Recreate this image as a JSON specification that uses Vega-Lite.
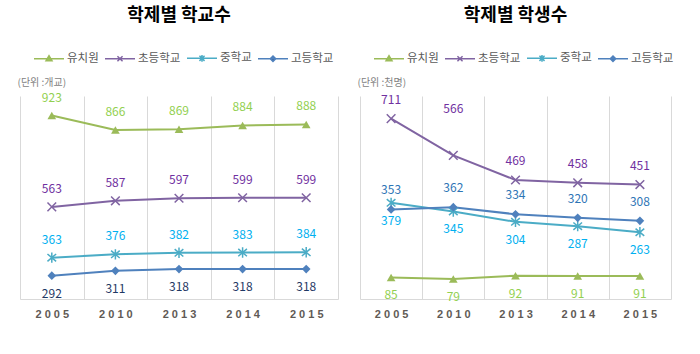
{
  "$schema": "https://vega.github.io/schema/vega-lite/v6.json",
  "background": "white",
  "padding": {"left": 17, "top": 7, "right": 5, "bottom": 5},
  "datasets": {
    "schools": [
      {"year": "2005", "series": "유치원", "value": 923},
      {"year": "2010", "series": "유치원", "value": 866},
      {"year": "2013", "series": "유치원", "value": 869},
      {"year": "2014", "series": "유치원", "value": 884},
      {"year": "2015", "series": "유치원", "value": 888},
      {"year": "2005", "series": "초등학교", "value": 563},
      {"year": "2010", "series": "초등학교", "value": 587},
      {"year": "2013", "series": "초등학교", "value": 597},
      {"year": "2014", "series": "초등학교", "value": 599},
      {"year": "2015", "series": "초등학교", "value": 599},
      {"year": "2005", "series": "중학교", "value": 363},
      {"year": "2010", "series": "중학교", "value": 376},
      {"year": "2013", "series": "중학교", "value": 382},
      {"year": "2014", "series": "중학교", "value": 383},
      {"year": "2015", "series": "중학교", "value": 384},
      {"year": "2005", "series": "고등학교", "value": 292},
      {"year": "2010", "series": "고등학교", "value": 311},
      {"year": "2013", "series": "고등학교", "value": 318},
      {"year": "2014", "series": "고등학교", "value": 318},
      {"year": "2015", "series": "고등학교", "value": 318}
    ],
    "students": [
      {"year": "2005", "series": "유치원", "value": 85},
      {"year": "2010", "series": "유치원", "value": 79},
      {"year": "2013", "series": "유치원", "value": 92},
      {"year": "2014", "series": "유치원", "value": 91},
      {"year": "2015", "series": "유치원", "value": 91},
      {"year": "2005", "series": "초등학교", "value": 711},
      {"year": "2010", "series": "초등학교", "value": 566},
      {"year": "2013", "series": "초등학교", "value": 469},
      {"year": "2014", "series": "초등학교", "value": 458},
      {"year": "2015", "series": "초등학교", "value": 451},
      {"year": "2005", "series": "중학교", "value": 379},
      {"year": "2010", "series": "중학교", "value": 345},
      {"year": "2013", "series": "중학교", "value": 304},
      {"year": "2014", "series": "중학교", "value": 287},
      {"year": "2015", "series": "중학교", "value": 263},
      {"year": "2005", "series": "고등학교", "value": 353},
      {"year": "2010", "series": "고등학교", "value": 362},
      {"year": "2013", "series": "고등학교", "value": 334},
      {"year": "2014", "series": "고등학교", "value": 320},
      {"year": "2015", "series": "고등학교", "value": 308}
    ]
  },
  "spacing": 19,
  "resolve": {
    "scale": {"color": "independent", "fill": "independent", "x": "independent", "y": "independent"},
    "legend": {"color": "independent"}
  },
  "hconcat": [
    {
      "width": 318,
      "height": 203,
      "title": {"text": "학제별 학교수", "fontSize": 18, "fontWeight": "bold", "font": "Noto Sans CJK KR", "color": "#000000", "frame": "group", "anchor": "middle", "offset": 17},
      "data": {"name": "schools"},
      "encoding": {
        "x": {
          "field": "year", "type": "ordinal",
          "scale": {"type": "band", "paddingInner": 0, "paddingOuter": 0},
          "axis": {"title": null, "labelAngle": 0, "labelExpr": "join(split(datum.label, ''), ' ')", "tickBand": "extent", "grid": true, "gridColor": "#d9d9d9", "domainColor": "#d9d9d9", "ticks": false, "labelPadding": 9, "labelFont": "Liberation Sans", "labelFontSize": 11, "labelFontWeight": "bold", "labelColor": "#5f5a55"}
        },
        "y": {
          "field": "value", "type": "quantitative",
          "scale": {"domain": [200, 1000], "nice": false, "zero": false},
          "axis": {"title": "(단위 :개교)", "labels": false, "ticks": false, "domain": false, "grid": false, "titleAngle": 0, "titleAlign": "left", "titleBaseline": "middle", "titleX": -3, "titleY": -14, "titleFont": "Noto Sans CJK KR", "titleFontSize": 10, "titleFontWeight": "normal", "titleColor": "#7f7f7f"}
        }
      },
      "layer": [
        {
          "mark": {"type": "line", "strokeWidth": 2},
          "encoding": {
            "color": {
              "field": "series", "type": "nominal",
              "scale": {"domain": ["유치원", "초등학교", "중학교", "고등학교"], "range": ["#9bbb59", "#8064a2", "#4bacc6", "#4f81bd"]},
              "legend": {
                "title": null, "orient": "none", "direction": "horizontal", "legendX": 13, "legendY": -54,
                "symbolSize": 900, "labelFont": "Noto Sans CJK KR", "labelFontSize": 11.5, "labelColor": "#595959", "labelOffset": 2, "columnPadding": 3,
                "encode": {"symbols": {"update": {
                  "shape": {"signal": "datum.value == '유치원' ? 'M-1,0H1M-0.2,0.14L0,-0.2L0.2,0.14Z' : datum.value == '초등학교' ? 'M-1,0H1M-0.17,-0.17L0.17,0.17M-0.17,0.17L0.17,-0.17' : datum.value == '중학교' ? 'M-1,0H1M-0.17,-0.17L0.17,0.17M-0.17,0.17L0.17,-0.17M0,-0.22V0.22' : 'M-1,0H1M0,-0.18L0.18,0L0,0.18L-0.18,0Z'"},
                  "fill": {"signal": "datum.value == '유치원' ? '#9bbb59' : datum.value == '초등학교' ? '#8064a2' : datum.value == '중학교' ? '#4bacc6' : '#4f81bd'"},
                  "stroke": {"signal": "datum.value == '유치원' ? '#9bbb59' : datum.value == '초등학교' ? '#8064a2' : datum.value == '중학교' ? '#4bacc6' : '#4f81bd'"},
                  "strokeWidth": {"value": 1.5},
                  "size": {"value": 900},
                  "opacity": {"value": 1}
                }}}
              }
            }
          }
        },
        {
          "transform": [{"filter": "datum.series == '유치원'"}],
          "mark": {"type": "point", "shape": "triangle-up", "filled": true, "size": 75, "color": "#9bbb59", "opacity": 1}
        },
        {
          "transform": [{"filter": "datum.series == '초등학교'"}],
          "mark": {"type": "point", "shape": "M-1,-1L1,1M-1,1L1,-1", "filled": false, "size": 75, "strokeWidth": 1.5, "color": "#8064a2", "opacity": 1}
        },
        {
          "transform": [{"filter": "datum.series == '중학교'"}],
          "mark": {"type": "point", "shape": "M-1,-0.85L1,0.85M-1,0.85L1,-0.85M0,-1.2V1.2", "filled": false, "size": 75, "strokeWidth": 1.5, "color": "#4bacc6", "opacity": 1}
        },
        {
          "transform": [{"filter": "datum.series == '고등학교'"}],
          "mark": {"type": "point", "shape": "diamond", "filled": true, "size": 75, "color": "#4f81bd", "opacity": 1}
        },
        {
          "transform": [{"filter": "datum.series != '고등학교'"}],
          "mark": {"type": "text", "dy": -18, "font": "Noto Sans CJK KR", "fontSize": 12},
          "encoding": {
            "text": {"field": "value", "type": "quantitative"},
            "fill": {"field": "series", "type": "nominal", "scale": {"domain": ["유치원", "초등학교", "중학교", "고등학교"], "range": ["#92d050", "#7030a0", "#00b0f0", "#1f3864"]}, "legend": null}
          }
        },
        {
          "transform": [{"filter": "datum.series == '고등학교'"}],
          "mark": {"type": "text", "dy": 18, "font": "Noto Sans CJK KR", "fontSize": 12},
          "encoding": {
            "text": {"field": "value", "type": "quantitative"},
            "fill": {"field": "series", "type": "nominal", "legend": null}
          }
        }
      ]
    },
    {
      "width": 311,
      "height": 203,
      "title": {"text": "학제별 학생수", "fontSize": 18, "fontWeight": "bold", "font": "Noto Sans CJK KR", "color": "#000000", "frame": "group", "anchor": "middle", "offset": 17},
      "data": {"name": "students"},
      "encoding": {
        "x": {
          "field": "year", "type": "ordinal",
          "scale": {"type": "band", "paddingInner": 0, "paddingOuter": 0},
          "axis": {"title": null, "labelAngle": 0, "labelExpr": "join(split(datum.label, ''), ' ')", "tickBand": "extent", "grid": true, "gridColor": "#d9d9d9", "domainColor": "#d9d9d9", "ticks": false, "labelPadding": 9, "labelFont": "Liberation Sans", "labelFontSize": 11, "labelFontWeight": "bold", "labelColor": "#5f5a55"}
        },
        "y": {
          "field": "value", "type": "quantitative",
          "scale": {"domain": [0, 800], "nice": false},
          "axis": {"title": "(단위 :천명)", "labels": false, "ticks": false, "domain": false, "grid": false, "titleAngle": 0, "titleAlign": "left", "titleBaseline": "middle", "titleX": -3, "titleY": -14, "titleFont": "Noto Sans CJK KR", "titleFontSize": 10, "titleFontWeight": "normal", "titleColor": "#7f7f7f"}
        }
      },
      "layer": [
        {
          "mark": {"type": "line", "strokeWidth": 2},
          "encoding": {
            "color": {
              "field": "series", "type": "nominal",
              "scale": {"domain": ["유치원", "초등학교", "중학교", "고등학교"], "range": ["#9bbb59", "#8064a2", "#4bacc6", "#4f81bd"]},
              "legend": {
                "title": null, "orient": "none", "direction": "horizontal", "legendX": 13, "legendY": -54,
                "symbolSize": 900, "labelFont": "Noto Sans CJK KR", "labelFontSize": 11.5, "labelColor": "#595959", "labelOffset": 2, "columnPadding": 3,
                "encode": {"symbols": {"update": {
                  "shape": {"signal": "datum.value == '유치원' ? 'M-1,0H1M-0.2,0.14L0,-0.2L0.2,0.14Z' : datum.value == '초등학교' ? 'M-1,0H1M-0.17,-0.17L0.17,0.17M-0.17,0.17L0.17,-0.17' : datum.value == '중학교' ? 'M-1,0H1M-0.17,-0.17L0.17,0.17M-0.17,0.17L0.17,-0.17M0,-0.22V0.22' : 'M-1,0H1M0,-0.18L0.18,0L0,0.18L-0.18,0Z'"},
                  "fill": {"signal": "datum.value == '유치원' ? '#9bbb59' : datum.value == '초등학교' ? '#8064a2' : datum.value == '중학교' ? '#4bacc6' : '#4f81bd'"},
                  "stroke": {"signal": "datum.value == '유치원' ? '#9bbb59' : datum.value == '초등학교' ? '#8064a2' : datum.value == '중학교' ? '#4bacc6' : '#4f81bd'"},
                  "strokeWidth": {"value": 1.5},
                  "size": {"value": 900},
                  "opacity": {"value": 1}
                }}}
              }
            }
          }
        },
        {
          "transform": [{"filter": "datum.series == '유치원'"}],
          "mark": {"type": "point", "shape": "triangle-up", "filled": true, "size": 75, "color": "#9bbb59", "opacity": 1}
        },
        {
          "transform": [{"filter": "datum.series == '초등학교'"}],
          "mark": {"type": "point", "shape": "M-1,-1L1,1M-1,1L1,-1", "filled": false, "size": 75, "strokeWidth": 1.5, "color": "#8064a2", "opacity": 1}
        },
        {
          "transform": [{"filter": "datum.series == '중학교'"}],
          "mark": {"type": "point", "shape": "M-1,-0.85L1,0.85M-1,0.85L1,-0.85M0,-1.2V1.2", "filled": false, "size": 75, "strokeWidth": 1.5, "color": "#4bacc6", "opacity": 1}
        },
        {
          "transform": [{"filter": "datum.series == '고등학교'"}],
          "mark": {"type": "point", "shape": "diamond", "filled": true, "size": 75, "color": "#4f81bd", "opacity": 1}
        },
        {
          "transform": [{"filter": "(datum.series == '초등학교' && datum.year != '2010') || datum.series == '고등학교'"}],
          "mark": {"type": "text", "dy": -19, "font": "Noto Sans CJK KR", "fontSize": 12},
          "encoding": {
            "text": {"field": "value", "type": "quantitative"},
            "fill": {"field": "series", "type": "nominal", "scale": {"domain": ["유치원", "초등학교", "중학교", "고등학교"], "range": ["#92d050", "#7030a0", "#00b0f0", "#2e75b6"]}, "legend": null}
          }
        },
        {
          "transform": [{"filter": "datum.series == '초등학교' && datum.year == '2010'"}],
          "mark": {"type": "text", "dy": -46, "font": "Noto Sans CJK KR", "fontSize": 12},
          "encoding": {
            "text": {"field": "value", "type": "quantitative"},
            "fill": {"field": "series", "type": "nominal", "legend": null}
          }
        },
        {
          "transform": [{"filter": "datum.series == '유치원' || datum.series == '중학교'"}],
          "mark": {"type": "text", "dy": 18, "font": "Noto Sans CJK KR", "fontSize": 12},
          "encoding": {
            "text": {"field": "value", "type": "quantitative"},
            "fill": {"field": "series", "type": "nominal", "legend": null}
          }
        }
      ]
    }
  ],
  "config": {
    "view": {"stroke": null}
  }
}
